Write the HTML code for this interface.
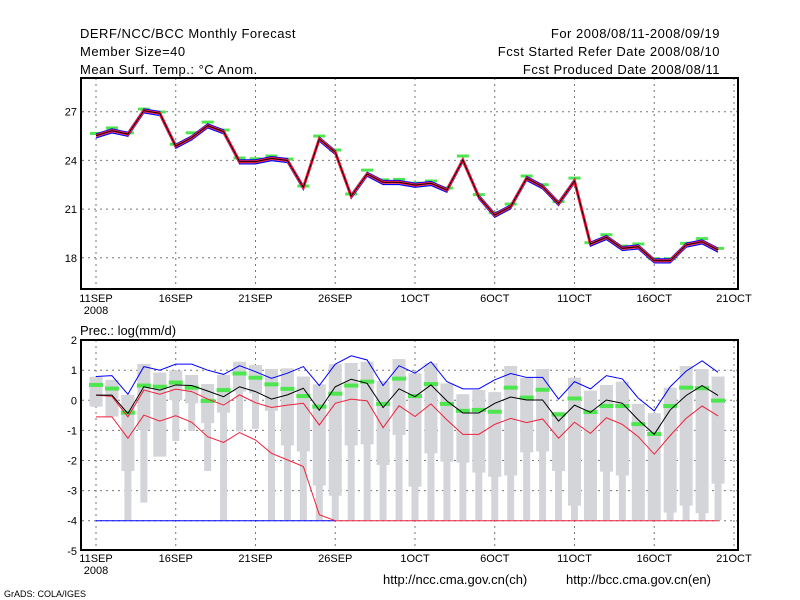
<!DOCTYPE html>
<html><head><meta charset="utf-8"><style>
body{margin:0;background:#fff;width:800px;height:600px;overflow:hidden}
svg{display:block}
text{font-family:"Liberation Sans",sans-serif;fill:#000}
.hd{letter-spacing:0.5px}
</style></head><body>
<svg id="c" width="800" height="600">
<text class="hd" x="80" y="38" font-size="13">DERF/NCC/BCC Monthly Forecast</text>
<text class="hd" x="80" y="56" font-size="13">Member Size=40</text>
<text class="hd" x="80" y="74" font-size="13">Mean Surf. Temp.: °C Anom.</text>
<text class="hd" x="720" y="38" font-size="13" text-anchor="end">For 2008/08/11-2008/09/19</text>
<text class="hd" x="720" y="56" font-size="13" text-anchor="end">Fcst Started Refer Date 2008/08/10</text>
<text class="hd" x="720" y="74" font-size="13" text-anchor="end">Fcst Produced Date 2008/08/11</text>
<text x="80" y="335" font-size="13">Prec.: log(mm/d)</text>
<text x="4" y="597" font-size="9">GrADS: COLA/IGES</text>
<text x="383" y="584" font-size="13">http://ncc.cma.gov.cn(ch)</text>
<text x="566" y="584" font-size="13">http://bcc.cma.gov.cn(en)</text>
<g id="top"></g><g id="bot"></g>
</svg>
<script>
const xTickLabels=["11SEP","16SEP","21SEP","26SEP","1OCT","6OCT","11OCT","16OCT","21OCT"];
const tYTicks=[18,21,24,27];
const pYTicks=[-5,-4,-3,-2,-1,0,1,2];
const tMean=[25.52,25.83,25.62,27.06,26.9,24.88,25.4,26.14,25.77,23.92,23.92,24.12,24.0,22.34,25.32,24.5,21.8,23.16,22.65,22.65,22.48,22.59,22.17,24.02,21.76,20.63,21.15,22.9,22.38,21.35,22.73,18.85,19.26,18.58,18.68,17.82,17.82,18.79,18.99,18.48];
const tObs=[25.66,26.0,25.7,27.16,26.98,25.0,25.7,26.36,25.87,24.15,24.1,24.27,24.08,22.42,25.5,24.64,21.93,23.4,22.8,22.83,22.6,22.73,22.3,24.27,21.89,20.78,21.31,23.04,22.5,21.46,22.91,18.93,19.42,18.72,18.85,17.94,17.94,18.89,19.18,18.58];
const pTop=[0.78,0.68,0.18,1.21,0.92,0.99,0.84,0.54,0.84,1.28,1.17,1.04,1.06,0.79,0.53,1.2,1.24,1.28,0.64,1.37,0.9,1.23,0.56,0.2,0.34,0.27,1.14,0.75,1.04,-0.38,0.75,0.32,0.51,0.62,-0.12,-0.43,0.42,1.14,1.04,0.79];
const pBoxBot=[-0.21,-0.54,-2.35,-0.99,-1.87,0.01,-0.1,-0.76,-0.41,0.29,0.23,-0.35,-1.5,-1.7,-2.83,-3.17,-1.5,-1.46,-2.15,-1.15,-2.87,-1.76,-2.04,-2.07,-2.4,-2.54,-2.5,-1.73,-1.7,-2.35,-3.5,-3.98,-2.37,-2.5,-3.98,-3.98,-3.73,-3.5,-3.75,-2.77];
const pBot=[-0.21,-0.54,-3.98,-3.4,-1.87,-1.35,-1.02,-2.35,-3.98,-1.04,-0.95,-3.98,-3.98,-3.98,-3.98,-3.98,-3.98,-3.98,-3.98,-3.98,-3.98,-3.98,-3.98,-3.98,-3.98,-3.98,-3.98,-3.98,-3.98,-3.98,-3.98,-3.98,-3.98,-3.98,-3.98,-3.98,-3.98,-3.98,-3.98,-3.98];
const pObs=[0.51,0.39,-0.41,0.49,0.45,0.59,0.42,-0.02,0.34,0.89,0.75,0.53,0.38,0.14,-0.21,0.22,0.49,0.62,-0.12,0.72,0.14,0.54,-0.12,-0.35,-0.32,-0.38,0.42,0.09,0.35,-0.47,0.06,-0.39,-0.19,-0.19,-0.79,-1.12,-0.19,0.42,0.4,-0.01];
const pMed=[0.17,0.17,-0.44,0.45,0.34,0.51,0.49,0.31,0.12,0.45,0.29,0.04,0.18,0.4,-0.33,0.45,0.7,0.56,-0.24,0.38,0.12,0.51,-0.02,-0.42,-0.42,-0.1,0.11,0.01,0.01,-0.69,-0.16,-0.4,0.01,-0.1,-0.65,-1.13,-0.32,0.16,0.49,0.16];
const pMax=[0.79,0.82,0.2,1.12,1.0,1.2,1.2,1.0,0.86,1.15,0.95,0.73,0.9,1.12,0.49,1.2,1.48,1.34,0.49,1.15,0.9,1.28,0.62,0.38,0.38,0.68,0.89,0.76,0.76,0.04,0.62,0.38,0.82,0.71,0.07,-0.35,0.45,0.97,1.31,0.93];
const pUpperRed=[0.17,0.13,-0.55,0.34,0.2,0.37,0.29,0.04,-0.16,0.18,-0.08,-0.24,-0.16,-0.1,-0.82,-0.1,0.04,-0.02,-0.91,-0.18,-0.54,-0.12,-0.65,-1.13,-1.13,-0.8,-0.6,-0.74,-0.62,-1.26,-0.73,-1.1,-0.58,-0.8,-1.21,-1.79,-1.17,-0.6,-0.19,-0.52];
const pLowerRed=[-0.55,-0.55,-1.26,-0.49,-0.69,-0.51,-0.73,-1.21,-1.4,-1.07,-1.32,-1.76,-1.98,-2.2,-3.8,-4.0];
const pFloor=-4;
const NS="http://www.w3.org/2000/svg";
const X0=96,DX=15.95,L=82,R=738;
const xs=d=>X0+DX*d;
const tY=v=>111.7+(27-v)*16.23;
const pY=v=>400.3-v*30.1;
function el(p,tag,a){const e=document.createElementNS(NS,tag);for(const k in a)e.setAttribute(k,a[k]);p.appendChild(e);return e;}
function line(p,vals,yf,a){return el(p,"polyline",Object.assign({points:vals.map((v,i)=>xs(i)+","+yf(v)).join(" "),fill:"none"},a));}
function panel(g,top,bot,ticks,yf,xlabY){
  for(let i=0;i<xTickLabels.length;i++){const x=xs(i*5);
    const gl=el(g,"line",{x1:x,x2:x,y1:top,y2:bot,stroke:"#777","stroke-dasharray":"2,4"});
    
    const t=el(g,"text",{x:x,y:xlabY,"font-size":11,"text-anchor":"middle"});t.textContent=xTickLabels[i];
    }
  const yr=el(g,"text",{x:xs(0),y:xlabY+12,"font-size":11,"text-anchor":"middle"});yr.textContent="2008";
  
  ticks.forEach(v=>{const y=yf(v);
    if(y>top+2&&y<bot-2){const gl=el(g,"line",{x1:L,x2:R,y1:y,y2:y,stroke:"#777","stroke-dasharray":"2,4"});
      }
    const t=el(g,"text",{x:77,y:y+4,"font-size":11,"text-anchor":"end"});t.textContent=v;
    });
}
function frame(g,top,bot){const f=el(g,"rect",{x:81,y:top,width:657,height:bot-top,fill:"none",stroke:"#000","stroke-width":2});
  }
const gt=document.getElementById("top");
panel(gt,78,289,tYTicks,tY,302);
tObs.forEach((v,i)=>{const r=el(gt,"rect",{x:xs(i)-6,y:tY(v)-1.5,width:12,height:3,fill:"#4ee64e"});
  });
let s;
s=el(gt,"g",{transform:"translate(0,-1.8)"});line(s,tMean,tY,{stroke:"#0000ff","stroke-width":1.2});

s=el(gt,"g",{transform:"translate(0,2.2)"});line(s,tMean,tY,{stroke:"#0000ff","stroke-width":1.2});

s=line(gt,tMean,tY,{stroke:"#f0203c","stroke-width":3});
s=line(gt,tMean,tY,{stroke:"#000","stroke-width":0.9});
frame(gt,78,289);
const gb=document.getElementById("bot");
panel(gb,340,550,pYTicks,pY,562);
pTop.forEach((v,i)=>{const x=xs(i);
  const w=el(gb,"rect",{x:x-3.5,y:pY(v),width:7,height:pY(pBot[i])-pY(v),fill:"#d4d5d9"});
  
  const b=el(gb,"rect",{x:x-6.5,y:pY(v),width:13,height:pY(pBoxBot[i])-pY(v),fill:"#d4d5d9"});
  });
s=el(gb,"line",{x1:xs(0),x2:xs(15),y1:pY(pFloor),y2:pY(pFloor),stroke:"#0000ff","stroke-width":1});

s=el(gb,"line",{x1:xs(15),x2:xs(39),y1:pY(pFloor),y2:pY(pFloor),stroke:"#f0203c","stroke-width":1});

pObs.forEach((v,i)=>{const r=el(gb,"rect",{x:xs(i)-7,y:pY(v)-2,width:14,height:4,fill:"#4ee64e"});
  });
s=line(gb,pMax,pY,{stroke:"#0000ff","stroke-width":1});
s=line(gb,pUpperRed,pY,{stroke:"#f0203c","stroke-width":1});
s=line(gb,pLowerRed,pY,{stroke:"#f0203c","stroke-width":1});
s=line(gb,pMed,pY,{stroke:"#000","stroke-width":1});
frame(gb,340,550);
</script>
</body></html>
